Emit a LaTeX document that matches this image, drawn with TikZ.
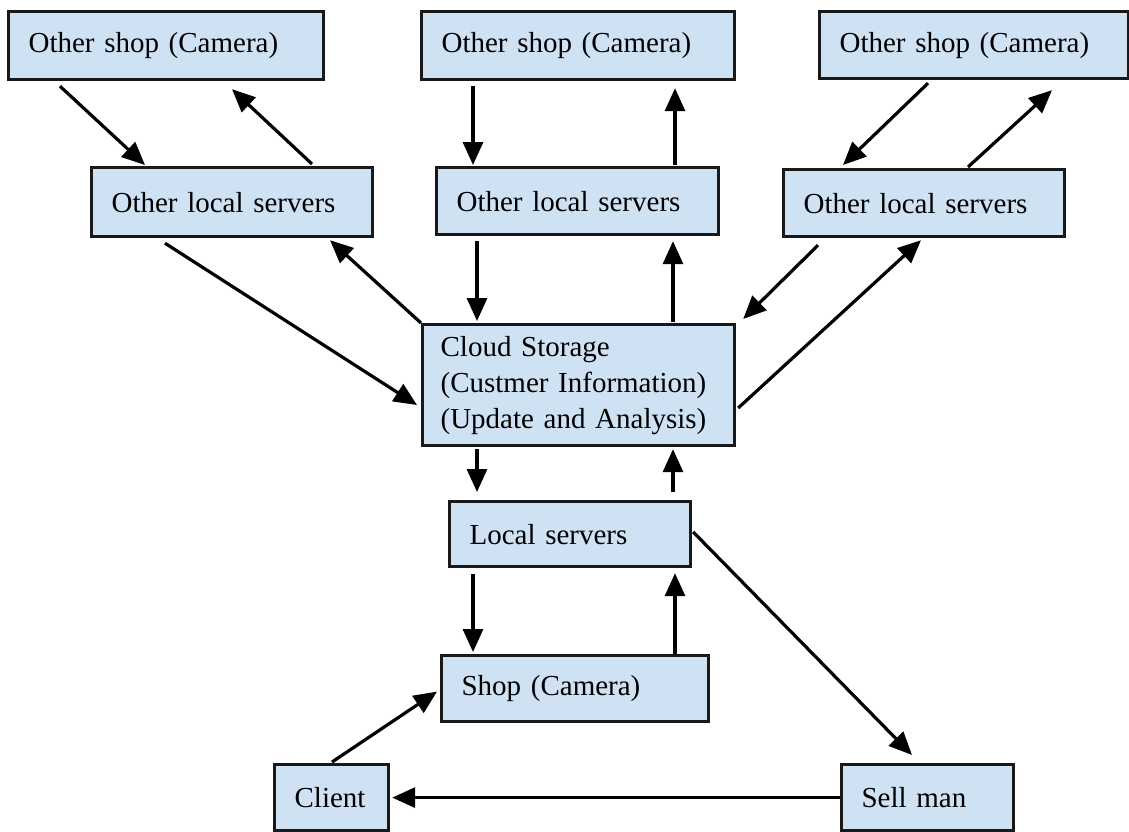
\documentclass[tikz,border=0pt]{standalone}
\usepackage{fontspec}
\setmainfont{Liberation Serif}
\usepackage{tikz}
\usetikzlibrary{calc,arrows.meta}

\definecolor{boxblue}{RGB}{207,226,243}
\definecolor{edge}{RGB}{25,25,25}
\tikzset{
  box/.style={draw=edge, fill=boxblue, line width=3.2pt, anchor=north west,
    inner xsep=20pt, inner ysep=0pt, align=left,
    font=\fontsize{29}{36}\selectfont},
  arr/.style={line width=3.2pt, -{Triangle[length=23pt,width=20pt]}}
}

\begin{document}
\begin{tikzpicture}[x=1pt,y=-1pt]
              \useasboundingbox (0,0) rectangle (1129,831);
              % top row
              \node[box, text width=275pt, minimum height=68pt] (tlshop) at (7,10) {Other shop (Camera)};
              \node[box, text width=273pt, minimum height=68pt] (tmshop) at (420,10) {Other shop (Camera)};
              \node[box, text width=269pt, minimum height=67pt] (trshop) at (818,10) {Other shop (Camera)};
              % other local servers
              \node[box, text width=241pt, minimum height=69pt] (llocal) at (90,166) {Other local servers};
              \node[box, text width=242pt, minimum height=67pt] (mlocal) at (435,166) {Other local servers};
              \node[box, text width=241pt, minimum height=67pt] (rlocal) at (782,168) {Other local servers};
              % centre
              \node[box, inner xsep=18pt, text width=276pt, minimum height=121pt] (cloud) at (421,323)
                {Cloud Storage\\(Custmer Information)\\(Update and Analysis)};
              \node[box, text width=201pt, minimum height=65pt] (local) at (448,500) {Local servers};
              \node[box, text width=227pt, minimum height=66pt] (shop) at (440,654) {Shop (Camera)};
              % bottom
              \node[box, text width=74pt, minimum height=66pt] (client) at (273,763) {Client};
              \node[box, text width=132pt, minimum height=66pt] (sellman) at (840,763) {Sell man};

              % shops <-> other local servers
              \draw[arr] ($(tlshop.south west)+(53,5)$) -- ($(llocal.north west)+(55,-1)$);
              \draw[arr] ($(llocal.north west)+(222,-2)$) -- ($(tlshop.south west)+(225,8)$);
              \draw[arr] ($(tmshop.south west)+(53,5)$) -- ($(mlocal.north west)+(38,-1)$);
              \draw[arr] ($(mlocal.north west)+(240,-1)$) -- ($(tmshop.south west)+(255,7)$);
              \draw[arr] ($(trshop.south west)+(110,3)$) -- ($(rlocal.north west)+(61,-3)$);
              \draw[arr] ($(rlocal.north west)+(186,-1)$) -- ($(trshop.south west)+(234,10)$);

              % other local servers <-> cloud
              \draw[arr] ($(llocal.south west)+(75,5)$) -- ($(cloud.north west)+(-4,82)$);
              \draw[arr] (cloud.north west) -- ($(llocal.south west)+(240,2)$);
              \draw[arr] ($(mlocal.south west)+(42,5)$) -- ($(cloud.north west)+(56,-2)$);
              \draw[arr] ($(cloud.north west)+(252,-1)$) -- ($(mlocal.south west)+(238,5)$);
              \draw[arr] ($(rlocal.south west)+(36,7)$) -- ($(cloud.north east)+(7,-4)$);
              \draw[arr] ($(cloud.north east)+(2,85)$) -- ($(rlocal.south west)+(139,2)$);

              % cloud <-> local <-> shop
              \draw[arr] ($(cloud.south west)+(56,2)$) -- ($(local.north west)+(29,-8)$);
              \draw[arr] ($(local.north west)+(225,-8)$) -- ($(cloud.south west)+(252,2)$);
              \draw[arr] ($(local.south west)+(25,6)$) -- ($(shop.north west)+(33,-2)$);
              \draw[arr] ($(shop.north west)+(235,0)$) -- ($(local.south west)+(227,5)$);

              % sell man loop
              \draw[arr] ($(local.north east)+(1,32)$) -- ($(sellman.north west)+(72,-8)$);
              \draw[arr] (sellman.west) -- ($(client.east)+(2,0)$);
              \draw[arr] ($(client.north west)+(59,-1)$) -- ($(shop.west)+(-3,3)$);

            \end{tikzpicture}
\end{document}
